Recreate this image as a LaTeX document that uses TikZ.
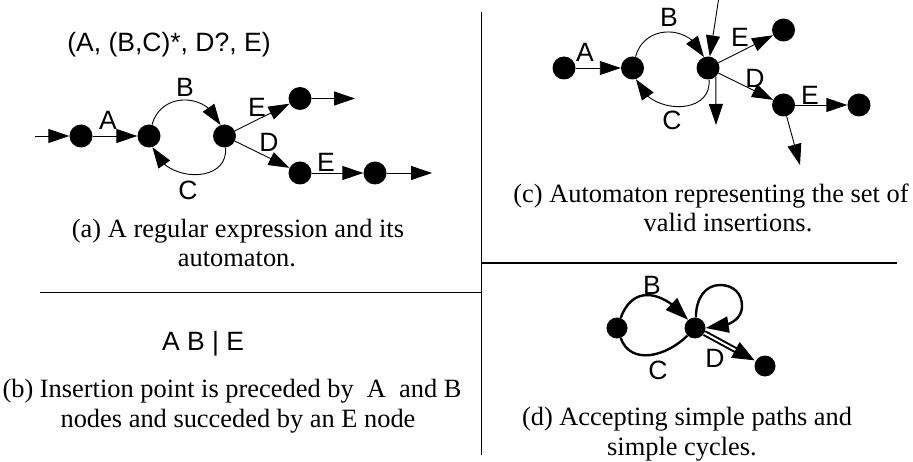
\documentclass[tikz,border=0pt]{standalone}
\usepackage{fontspec}
\setmainfont{Liberation Serif}
\setsansfont{Liberation Sans}
\usetikzlibrary{arrows.meta,bending}
\begin{document}
\begin{tikzpicture}[x=1pt,y=1pt,
  state/.style={circle, fill=black, inner sep=0pt, minimum size=23pt},
  dstate/.style={state, minimum size=21pt},
  lbl/.style={font=\sffamily\fontsize{26.5}{26.5}\selectfont, inner sep=0pt},
  captext/.style={font=\fontsize{26.4}{30}\selectfont, inner sep=0pt, anchor=base},
  arrowline/.style={line width=0.9pt, -{Triangle[length=21pt,width=14pt]}},
  thickline/.style={line width=2.4pt},
  bigtip/.style={-{Triangle[length=23pt,width=16pt]}},
  divider/.style={line width=1.2pt},
  upperarc/.style={out=75,in=110,looseness=1.3},
  lowerarc/.style={out=-85,in=-73,looseness=1.3}]
\useasboundingbox (0,0) rectangle (913,-462);

% panel separators
\draw[divider] (481.5,-12) -- (481.5,-455);
\draw[divider] (40,-292.5) -- (481.5,-292.5);
\draw[divider] (481.5,-263) -- (897,-263);

% ---------- (a) regular expression and its automaton ----------
\node[lbl, anchor=base] (ttl) at (169,-52) {(A, (B,C)*, D?, E)};
\node[state] (a1) at (81,-136) {};
\node[state] (a2) at (149,-136) {};
\node[state] (a3) at (224.5,-136) {};
\node[state] (a4) at (300,-98.5) {};
\node[state] (a5) at (300,-173) {};
\node[state] (a6) at (375,-173) {};
\coordinate (ain) at (35,-136);
\coordinate (a4out) at (355,-98.5);
\coordinate (a6out) at (432,-173);
\draw[arrowline] (ain) -- (a1);
\draw[arrowline] (a1) -- (a2);
\draw[arrowline] (a2) to[upperarc] (a3);
\draw[arrowline] (a3) to[lowerarc] (a2);
\draw[arrowline] (a3) -- (a4);
\draw[arrowline] (a3) -- (a5);
\draw[arrowline] (a5) -- (a6);
\draw[arrowline] (a4) -- (a4out);
\draw[arrowline] (a6) -- (a6out);
\node[lbl] (aA) at (108,-120) {A};
\node[lbl] (aB) at (185,-87) {B};
\node[lbl] (aC) at (188,-190) {C};
\node[lbl] (aE1) at (257,-107) {E};
\node[lbl] (aD) at (269,-142) {D};
\node[lbl] (aE2) at (326,-162) {E};
\node[captext] (capa1) at (238,-238) {(a) A regular expression and its};
\node[captext] (capa2) at (237,-267) {automaton.};

% ---------- (b) insertion point ----------
\node[lbl, anchor=base] (ins) at (203,-350) {A B | E};
\node[captext] (capb1) at (232,-397) {(b) Insertion point is preceded by\ \ A\ \ and B};
\node[captext] (capb2) at (238,-427) {nodes and succeded by an E node};

% ---------- (c) automaton of valid insertions ----------
\node[state] (c1) at (564,-68) {};
\node[state] (c2) at (632.5,-68) {};
\node[state] (c3) at (708,-68) {};
\node[state] (c4) at (783.5,-30) {};
\node[state] (c5) at (783.5,-105) {};
\node[state] (c6) at (859,-105) {};
\coordinate (ctop) at (718.5,0);
\coordinate (cdown) at (716,-125);
\coordinate (c5down) at (800,-165);
\draw[arrowline] (c1) -- (c2);
\draw[arrowline] (c2) to[upperarc] (c3);
\draw[arrowline] (c3) to[lowerarc] (c2);
\draw[arrowline] (c3) -- (c4);
\draw[arrowline] (c3) -- (c5);
\draw[arrowline] (c5) -- (c6);
\draw[arrowline] (ctop) -- (c3);
\draw[arrowline] (c3.-48) -- (cdown);
\draw[arrowline] (c5) -- (c5down);
\node[lbl] (cA) at (585,-52) {A};
\node[lbl] (cB) at (669,-17) {B};
\node[lbl] (cC) at (672,-120) {C};
\node[lbl] (cE1) at (740,-37) {E};
\node[lbl] (cD) at (755,-78) {D};
\node[lbl] (cE2) at (810,-95) {E};
\node[captext] (capc1) at (711,-203) {(c) Automaton representing the set of};
\node[captext] (capc2) at (728,-232) {valid insertions.};

% ---------- (d) simple paths and simple cycles ----------
\node[dstate] (d1) at (617,-328) {};
\node[dstate] (d2) at (695,-328) {};
\node[dstate] (d3) at (765,-366) {};
\coordinate (looptop) at (720,-285);
\coordinate (loopright) at (742,-306);
\draw[thickline, bigtip] (d1) to[out=70,in=130,looseness=1.4] (d2);
\draw[thickline] (d1) to[out=-70,in=-135,looseness=1.13] (d2);
\draw[thickline, bigtip] (d2.85) .. controls +(0,20) and +(-14,0) .. (looptop)
  .. controls +(14,0) and +(0,12) .. (loopright)
  .. controls +(0,-14) and +(22,0) .. (d2.east);
\draw[line width=6pt, bigtip] (d2) -- (d3);
\draw[white, line width=2pt, shorten >=23pt] (d2) -- (d3);
\node[lbl] (dB) at (652,-285) {B};
\node[lbl] (dC) at (658,-370) {C};
\node[lbl] (dD) at (715,-358) {D};
\node[captext] (capd1) at (687,-425) {(d) Accepting simple paths and};
\node[captext] (capd2) at (682,-455) {simple cycles.};
\end{tikzpicture}
\end{document}
